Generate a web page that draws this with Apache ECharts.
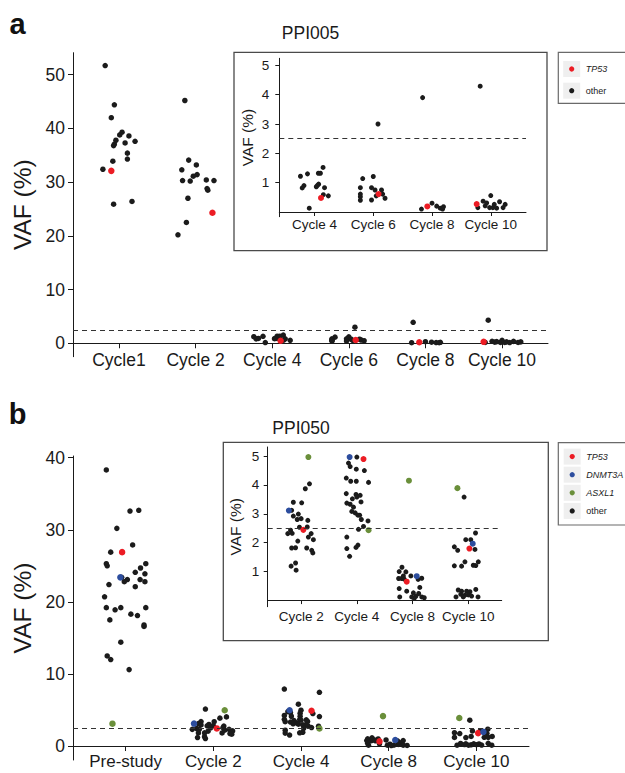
<!DOCTYPE html>
<html>
<head>
<meta charset="utf-8">
<script src="https://cdn.jsdelivr.net/npm/echarts@6/dist/echarts.min.js"></script>
<style>
html,body{margin:0;padding:0;background:#fff;}
#chart{width:625px;height:773px;}
</style>
</head>
<body>
<div id="chart"></div>
<script>
// ---------------- DATA ----------------
const panelA_categories = ['Cycle1', 'Cycle 2', 'Cycle 4', 'Cycle 6', 'Cycle 8', 'Cycle 10'];
const panelA_yTicks = [0, 10, 20, 30, 40, 50];
const panelA_TP53_vaf = [32.1, 24.3, 0.48, 0.61, 0.19, 0.27];
const panelA_TP53_jitter = [-0.10, 0.22, 0.11, 0.09, -0.08, -0.24];
const panelA_other_vaf = [
  [51.7, 44.4, 42.0, 39.3, 38.8, 38.6, 37.6, 37.3, 37.8, 37.1, 36.8, 35.4, 34.3, 33.9, 32.4, 26.4, 25.9],
  [45.2, 34.1, 32.3, 33.2, 31.4, 31.1, 30.2, 30.3, 30.4, 30.3, 28.8, 28.5, 27.0, 22.5, 20.2],
  [1.22, 1.30, 1.52, 1.32, 1.32, 0.90, 0.82, 0.95, 0.86, 0.83, 0.59, 0.55, 0.13, 0.91],
  [3.0, 1.14, 1.21, 0.83, 0.83, 0.75, 0.75, 0.61, 0.52, 0.40, 0.41, 0.61, 0.47, 0.55],
  [3.90, 0.10, 0.30, 0.20, 0.13, 0.18, 0.10],
  [4.29, 0.56, 0.37, 0.15, 0.21, 0.15, 0.26, 0.35, 0.26, 0.15, 0.13, 0.31, 0.15]
];
const panelA_other_jitter = [
  [-0.18, -0.06, -0.10, 0.04, 0.01, 0.13, 0.21, 0.08, -0.04, -0.06, -0.07, 0.11, 0.11, -0.08, -0.21, 0.17, -0.07],
  [-0.14, -0.09, -0.18, 0.01, 0.02, -0.03, -0.07, -0.17, 0.14, 0.24, 0.15, 0.16, -0.10, -0.12, -0.23],
  [-0.24, -0.12, 0.145, 0.065, 0.10, -0.18, -0.21, 0.07, 0.03, 0.17, 0.15, 0.235, -0.09, 0.05],
  [0.08, -0.18, 0.0, -0.22, -0.03, 0.03, 0.14, -0.22, -0.22, -0.22, -0.03, 0.16, 0.2, 0.05],
  [-0.16, -0.18, 0.0, 0.08, 0.14, 0.195, 0.18],
  [-0.18, 0.0, -0.13, -0.22, -0.095, -0.02, 0.06, 0.15, 0.245, 0.21, 0.10, -0.07, 0.035]
];

const panelB_categories = ['Pre-study', 'Cycle 2', 'Cycle 4', 'Cycle 8', 'Cycle 10'];
const panelB_yTicks = [0, 10, 20, 30, 40];
const panelB_TP53_vaf = [26.9, 2.44, 4.90, 0.64, 1.79];
const panelB_TP53_jitter = [-0.04, 0.04, 0.12, -0.105, 0.02];
const panelB_DNMT3A_vaf = [23.4, 3.11, 4.97, 0.83, 1.96];
const panelB_DNMT3A_jitter = [-0.06, -0.22, -0.13, 0.075, 0.08];
const panelB_ASXL1_vaf = [3.1, 4.97, 2.43, 4.15, 3.89];
const panelB_ASXL1_jitter = [-0.15, 0.13, 0.21, -0.065, -0.195];
const panelB_other_vaf = [
  [38.3, 30.2, 32.6, 32.7, 26.9, 27.9, 25.3, 25.0, 25.3, 24.7, 24.1, 23.9, 23.4, 23.1, 22.8, 23.1, 22.8, 22.4, 22.1, 20.7, 19.2, 19.2, 18.9, 19.2, 18.3, 18.1, 17.5, 16.8, 16.6, 14.4, 12.5, 12.0, 10.6],
  [4.04, 3.87, 3.40, 3.38, 3.12, 2.99, 2.92, 2.80, 2.83, 2.77, 2.53, 2.43, 2.31, 2.32, 2.31, 2.19, 2.10, 2.05, 1.81, 1.82, 1.81, 1.73, 1.64, 1.29, 1.18, 1.04, 2.54, 5.13],
  [4.97, 4.76, 4.64, 4.55, 4.50, 4.24, 4.13, 4.13, 4.09, 3.70, 3.67, 3.64, 3.52, 3.58, 3.37, 3.33, 3.41, 3.23, 3.08, 3.03, 2.95, 2.95, 2.80, 2.75, 2.56, 2.46, 2.19, 1.79, 1.91, 1.83, 1.52, 7.9, 7.45, 5.8],
  [1.14, 0.99, 0.98, 0.84, 0.84, 0.76, 0.75, 0.75, 0.73, 0.72, 0.40, 0.44, 0.31, 0.25, 0.23, 0.11, 0.11, 0.13, 0.11, 0.08, 0.06],
  [3.58, 2.33, 2.10, 2.10, 1.85, 1.73, 1.76, 1.33, 1.33, 1.19, 1.18, 1.21, 1.20, 0.37, 0.35, 0.31, 0.31, 0.29, 0.20, 0.17, 0.18, 0.11, 0.11, 0.11, 0.14]
];
const panelB_other_jitter = [
  [-0.22, -0.10, 0.05, 0.15, -0.17, 0.08, -0.22, -0.21, 0.23, 0.17, 0.11, 0.22, -0.045, 0.02, -0.015, 0.165, 0.22, -0.19, 0.11, -0.24, -0.22, -0.055, -0.12, 0.23, 0.06, 0.135, -0.18, 0.21, 0.21, -0.055, -0.21, -0.17, 0.04],
  [0.15, 0.075, -0.14, 0.01, -0.17, -0.05, -0.14, -0.07, 0.0, 0.12, -0.03, -0.19, -0.24, -0.16, 0.18, 0.13, 0.22, -0.06, -0.17, -0.10, 0.10, 0.19, 0.21, -0.10, -0.18, -0.09, 0.11, -0.09],
  [0.0, -0.15, -0.12, -0.01, 0.135, -0.19, -0.11, -0.01, 0.21, -0.19, -0.015, 0.06, -0.08, 0.0, -0.18, -0.12, 0.075, -0.06, -0.09, -0.03, 0.05, 0.02, 0.08, 0.20, 0.12, 0.03, -0.18, -0.18, 0.02, -0.015, -0.13, -0.19, 0.21, -0.03],
  [-0.19, -0.24, -0.12, -0.165, -0.03, 0.165, -0.25, -0.195, -0.15, 0.10, -0.24, 0.13, -0.105, 0.015, 0.11, -0.23, -0.015, 0.06, 0.165, 0.21, 0.03],
  [-0.075, 0.13, -0.045, 0.045, -0.25, -0.19, 0.12, -0.06, 0.18, -0.25, -0.12, 0.09, 0.135, 0.135, -0.18, -0.12, -0.03, 0.03, -0.135, -0.06, 0.0, -0.22, -0.09, 0.175, 0.06]
];

const insetMaxVAF = 5;       // insets only show VAF <= 5 %
const thresholdVAF = 2.5;    // dashed reference line
const insetTicks = [1, 2, 3, 4, 5];

// ---------------- STYLE ----------------
const FONT = '"Liberation Sans", Arial, Helvetica, sans-serif';
const COLORS = { other: '#1b1b1b', TP53: '#ec1c24', DNMT3A: '#2c4d9e', ASXL1: '#6a8f3a' };
const AXIS_COLOR = '#1a1a1a';

function points(vals, jits, from, to, maxV) {
  const out = [];
  for (let i = from; i <= to; i++) {
    const v = vals[i], j = jits[i];
    if (v == null) continue;
    if (Array.isArray(v)) {
      v.forEach((vv, k) => { if (vv <= maxV) out.push([i - from + j[k], vv]); });
    } else if (v <= maxV) {
      out.push([i - from + j, v]);
    }
  }
  return out;
}

const grids = [
  { left: 73, top: 52.7, width: 475, height: 304 },      // a main
  { left: 279.3, top: 58.3, width: 246.7, height: 158.4 }, // a inset
  { left: 73, top: 456, width: 456, height: 304 },         // b main
  { left: 267.7, top: 447, width: 234, height: 159.7 }     // b inset
].map(g => Object.assign({ containLabel: false, outerBoundsMode: 'none' }, g));

const panels = [
  { cats: panelA_categories, from: 0, to: 5, maxV: Infinity, yMin: -2.5, yMax: 54.1, yTicks: panelA_yTicks,
    fs: 17.5, nameFs: 24.5, nameGap: 37, xMargin: 7.5, yMargin: 8, tick: 5, sym: 5.5, symC: 6.5,
    groups: [['other', panelA_other_vaf, panelA_other_jitter], ['TP53', panelA_TP53_vaf, panelA_TP53_jitter]] },
  { cats: panelA_categories, from: 2, to: 5, maxV: insetMaxVAF, yMin: -0.16, yMax: 5.24, yTicks: insetTicks,
    fs: 13.5, nameFs: 15.5, nameGap: 24, xMargin: 5, yMargin: 10, tick: 4, sym: 5, symC: 6,
    groups: [['other', panelA_other_vaf, panelA_other_jitter], ['TP53', panelA_TP53_vaf, panelA_TP53_jitter]] },
  { cats: panelB_categories, from: 0, to: 4, maxV: Infinity, yMin: -1.94, yMax: 40.24, yTicks: panelB_yTicks,
    fs: 17, nameFs: 24.5, nameGap: 37, xMargin: 7, yMargin: 8, tick: 5, sym: 5.5, symC: 6.5,
    groups: [['other', panelB_other_vaf, panelB_other_jitter], ['TP53', panelB_TP53_vaf, panelB_TP53_jitter],
             ['DNMT3A', panelB_DNMT3A_vaf, panelB_DNMT3A_jitter], ['ASXL1', panelB_ASXL1_vaf, panelB_ASXL1_jitter]] },
  { cats: panelB_categories, from: 1, to: 4, maxV: insetMaxVAF, yMin: -0.23, yMax: 5.32, yTicks: insetTicks,
    fs: 13.5, nameFs: 15.5, nameGap: 24, xMargin: 9.5, yMargin: 8.5, tick: 4, sym: 5, symC: 6,
    groups: [['other', panelB_other_vaf, panelB_other_jitter], ['TP53', panelB_TP53_vaf, panelB_TP53_jitter],
             ['DNMT3A', panelB_DNMT3A_vaf, panelB_DNMT3A_jitter], ['ASXL1', panelB_ASXL1_vaf, panelB_ASXL1_jitter]] }
];

const xAxes = [], yAxes = [], series = [];
panels.forEach((p, gi) => {
  const cats = p.cats.slice(p.from, p.to + 1);
  const idx = cats.map((_, i) => i);
  // shift the whole x axis (line, ticks, labels) up to the VAF = 0 level
  const zeroOffset = -(0 - p.yMin) / (p.yMax - p.yMin) * grids[gi].height;
  xAxes.push({
    type: 'value', gridIndex: gi, min: -0.6, max: cats.length - 1 + 0.6,
    position: 'bottom', offset: zeroOffset,
    axisLine: { show: true, onZero: false, lineStyle: { color: AXIS_COLOR, width: 1 } },
    axisTick: { show: true, customValues: idx, length: p.tick, lineStyle: { color: AXIS_COLOR, width: 1 } },
    axisLabel: { show: true, customValues: idx, formatter: v => cats[Math.round(v)], fontSize: p.fs,
      fontFamily: FONT, color: AXIS_COLOR, margin: p.xMargin },
    splitLine: { show: false }
  });
  yAxes.push({
    type: 'value', gridIndex: gi, min: p.yMin, max: p.yMax,
    name: 'VAF (%)', nameLocation: 'middle', nameGap: p.nameGap,
    nameTextStyle: { fontSize: p.nameFs, fontFamily: FONT, color: AXIS_COLOR },
    axisLine: { show: true, onZero: false, lineStyle: { color: AXIS_COLOR, width: 1 } },
    axisTick: { show: true, customValues: p.yTicks, length: p.tick, lineStyle: { color: AXIS_COLOR, width: 1 } },
    axisLabel: { show: true, customValues: p.yTicks, fontSize: p.fs === 17 ? 17.5 : p.fs, fontFamily: FONT, color: AXIS_COLOR, margin: p.yMargin },
    splitLine: { show: false }
  });
  p.groups.forEach(([name, vals, jits]) => {
    const s = {
      type: 'scatter', name, xAxisIndex: gi, yAxisIndex: gi,
      data: points(vals, jits, p.from, p.to, p.maxV),
      symbol: 'circle', symbolSize: name === 'other' ? p.sym : p.symC,
      itemStyle: { color: COLORS[name], opacity: 1 },
      clip: true, silent: true, animation: false
    };
    if (name === 'other') {
      s.markLine = {
        silent: true, symbol: ['none', 'none'], label: { show: false }, animation: false,
        lineStyle: { type: [5, 4], color: '#333', width: 1 },
        data: [{ yAxis: thresholdVAF }]
      };
    }
    series.push(s);
  });
});

// legend (drawn with graphic elements)
function legendItems(x0, yStart, step, names) {
  const els = [];
  names.forEach((n, i) => {
    const cy = yStart + i * step;
    els.push({ type: 'rect', shape: { x: x0 - 8.5, y: cy - 8, width: 17, height: 16 }, style: { fill: '#efefef' }, silent: true });
    els.push({ type: 'circle', shape: { cx: x0, cy: cy, r: 2.6 }, style: { fill: COLORS[n] }, silent: true });
    els.push({ type: 'text', x: x0 + 14, y: cy, style: { text: n, fontSize: 9, fontFamily: FONT,
      fontStyle: n === 'other' ? 'normal' : 'italic', fill: '#222', textVerticalAlign: 'middle', textAlign: 'left' }, silent: true });
  });
  return els;
}

const graphics = [
  { type: 'text', x: 17.5, y: 24, style: { text: 'a', fontSize: 29, fontWeight: 'bold', fontFamily: FONT, fill: '#111', textAlign: 'center', textVerticalAlign: 'middle' } },
  { type: 'text', x: 17.5, y: 414, style: { text: 'b', fontSize: 29, fontWeight: 'bold', fontFamily: FONT, fill: '#111', textAlign: 'center', textVerticalAlign: 'middle' } },
  { type: 'text', x: 310.5, y: 33, style: { text: 'PPI005', fontSize: 17.5, fontFamily: FONT, fill: '#1a1a1a', textAlign: 'center', textVerticalAlign: 'middle' } },
  { type: 'text', x: 301, y: 427.5, style: { text: 'PPI050', fontSize: 17.5, fontFamily: FONT, fill: '#1a1a1a', textAlign: 'center', textVerticalAlign: 'middle' } },
  { type: 'rect', shape: { x: 234, y: 52.3, width: 313, height: 198.4 }, style: { fill: 'none', stroke: '#4a4a4a', lineWidth: 1.3 }, silent: true },
  { type: 'rect', shape: { x: 223.3, y: 442.3, width: 325, height: 198.4 }, style: { fill: 'none', stroke: '#4a4a4a', lineWidth: 1.3 }, silent: true },
  { type: 'rect', shape: { x: 558.3, y: 52.3, width: 72, height: 51 }, style: { fill: 'none', stroke: '#6a6a6a', lineWidth: 1.2 }, silent: true },
  { type: 'rect', shape: { x: 558.3, y: 442.7, width: 72, height: 82.3 }, style: { fill: 'none', stroke: '#6a6a6a', lineWidth: 1.2 }, silent: true }
].concat(legendItems(571.7, 69, 21.7, ['TP53', 'other']))
 .concat(legendItems(572.2, 456.6, 18.1, ['TP53', 'DNMT3A', 'ASXL1', 'other']));

const chart = echarts.init(document.getElementById('chart'), null, { renderer: 'svg' });
chart.setOption({
  backgroundColor: '#ffffff',
  animation: false,
  textStyle: { fontFamily: FONT },
  grid: grids,
  xAxis: xAxes,
  yAxis: yAxes,
  series: series,
  graphic: { elements: graphics }
});
</script>
</body>
</html>
